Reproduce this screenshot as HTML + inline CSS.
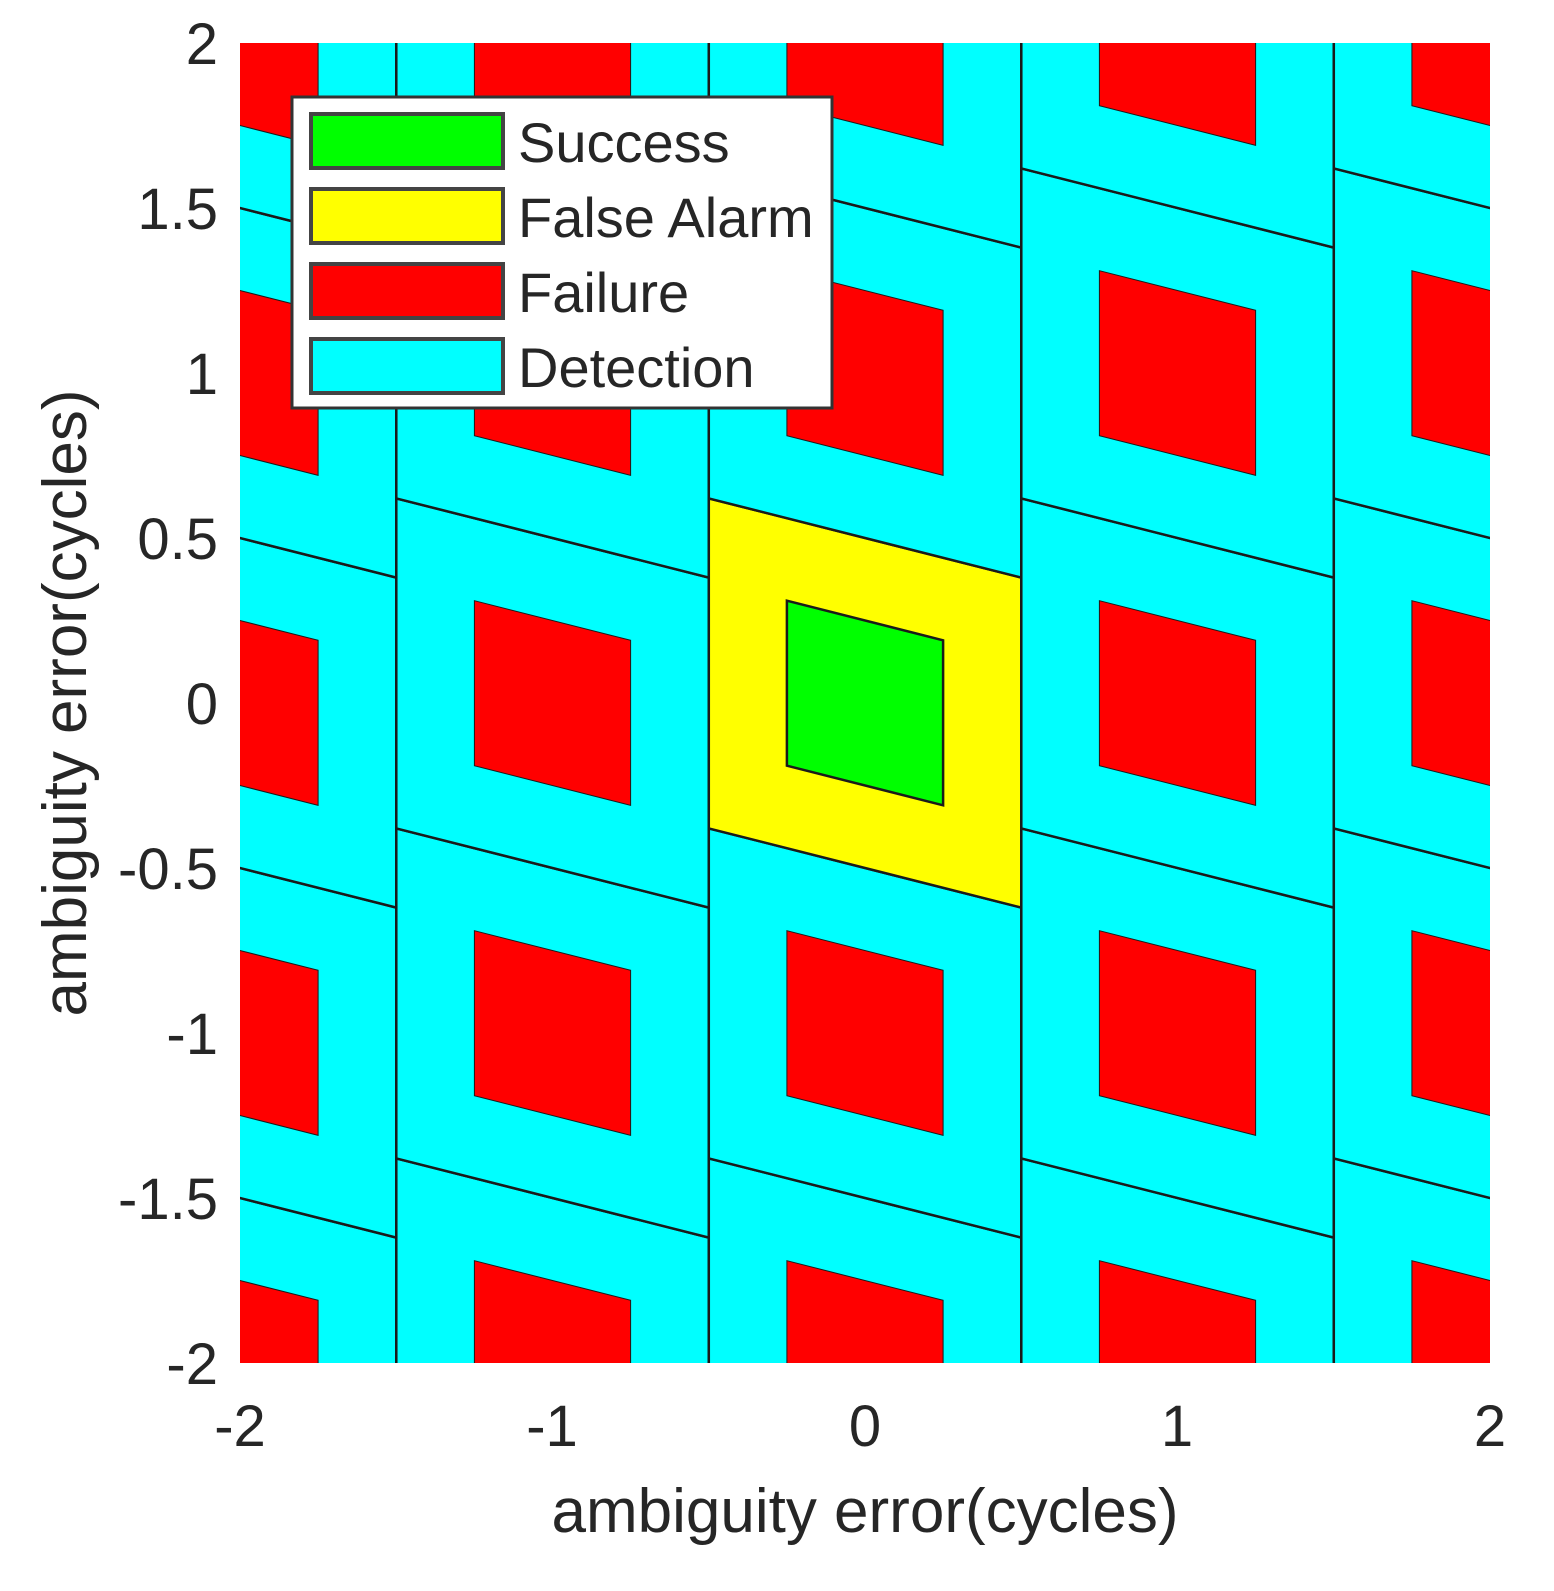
<!DOCTYPE html>
<html><head><meta charset="utf-8"><style>
html,body{margin:0;padding:0;background:#fff;overflow:hidden;width:1554px;height:1591px;position:relative;}
svg{display:block;position:absolute;left:0;top:0;}
text{font-family:"Liberation Sans",sans-serif;fill:#262626;}
</style></head><body>
<svg id="s" width="1554" height="1591" xmlns="http://www.w3.org/2000/svg">
<defs><clipPath id="c"><rect x="240" y="43" width="1250" height="1320"/></clipPath></defs>
<g id="plot" clip-path="url(#c)"><rect x="240" y="43" width="1250" height="1320" fill="#00ffff"/></g>
<g font-size="58" text-anchor="end">
<text x="218" y="64">2</text><text x="218" y="229">1.5</text><text x="218" y="394">1</text>
<text x="218" y="559">0.5</text><text x="218" y="724">0</text><text x="218" y="889">-0.5</text>
<text x="218" y="1054">-1</text><text x="218" y="1219">-1.5</text><text x="218" y="1384">-2</text>
</g>
<g font-size="58" text-anchor="middle">
<text x="240" y="1446">-2</text><text x="552" y="1446">-1</text><text x="865" y="1446">0</text>
<text x="1177" y="1446">1</text><text x="1490" y="1446">2</text>
</g>
<text x="865" y="1532" font-size="62" text-anchor="middle">ambiguity error(cycles)</text>
<text transform="translate(86,703) rotate(-90)" font-size="62" text-anchor="middle">ambiguity error(cycles)</text>
<g>
<rect x="292" y="97" width="540" height="311" fill="#fff" stroke="#333" stroke-width="3"/>
<rect x="311" y="114" width="192" height="54" fill="#00ff00" stroke="#444" stroke-width="4"/>
<rect x="311" y="189" width="192" height="54" fill="#ffff00" stroke="#444" stroke-width="4"/>
<rect x="311" y="264" width="192" height="54" fill="#ff0000" stroke="#444" stroke-width="4"/>
<rect x="311" y="339" width="192" height="54" fill="#00ffff" stroke="#444" stroke-width="4"/>
<text x="518" y="162" font-size="56">Success</text>
<text x="518" y="237" font-size="56">False Alarm</text>
<text x="518" y="312" font-size="56">Failure</text>
<text x="518" y="387" font-size="56">Detection</text>
</g>
</svg>
<script>
var g=document.getElementById('plot'),NS='http://www.w3.org/2000/svg';
function X(x){return 865+312.5*x}function Y(y){return 703-330*y}
function poly(pts,fill,sw){var p=document.createElementNS(NS,'polygon');
p.setAttribute('points',pts.map(function(a){return X(a[0]).toFixed(1)+','+Y(a[1]).toFixed(1)}).join(' '));
p.setAttribute('fill',fill);p.setAttribute('stroke','#1a1a1a');p.setAttribute('stroke-width',sw);g.appendChild(p);}
var s=0.24;
for(var n=-2;n<=2;n++)for(var k=-3;k<=3;k++){
 var a=n-0.5,b=n+0.5;
 var c=(n==0&&k==0);
 poly([[a,k+0.5+s*0.5],[b,k+0.5-s*0.5],[b,k-0.5-s*0.5],[a,k-0.5+s*0.5]],c?'#ffff00':'#00ffff',2.5);
}
for(var n=-2;n<=2;n++)for(var k=-3;k<=3;k++){
 var a=n-0.25,b=n+0.25,c=(n==0&&k==0);
 poly([[a,k+0.25+s*0.25],[b,k+0.25-s*0.25],[b,k-0.25-s*0.25],[a,k-0.25+s*0.25]],c?'#00ff00':'#ff0000',c?2.5:1);
}
</script>
</body></html>
